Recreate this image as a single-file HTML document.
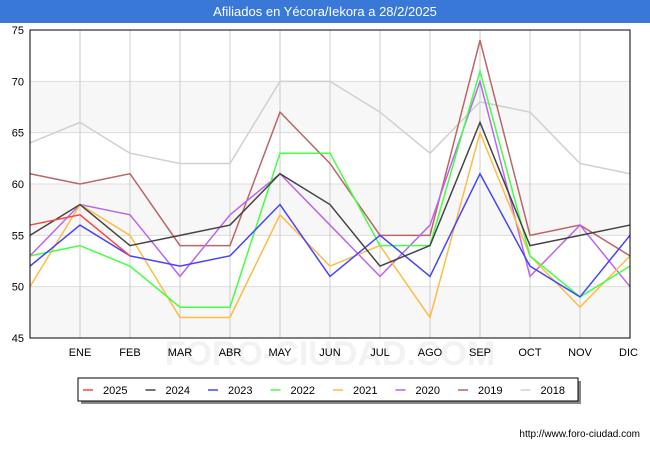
<!DOCTYPE html>
<html><head><meta charset="utf-8"><style>
body{margin:0;background:#fff;font-family:"Liberation Sans",sans-serif}
</style></head><body>
<svg width="650" height="450" viewBox="0 0 650 450" id="svg" style="display:block">
<rect x="0" y="0" width="650" height="23" fill="#3a78d8"/>
<text x="325" y="16" text-anchor="middle" font-size="13" fill="#fff">Afiliados en Yécora/Iekora a 28/2/2025</text>
<g id="plot"></g>
<text x="640" y="437" text-anchor="end" font-size="10" fill="#000">http://www.foro-ciudad.com</text>
</svg>
<script>
const months=["","ENE","FEB","MAR","ABR","MAY","JUN","JUL","AGO","SEP","OCT","NOV","DIC"];
const yTicks=[45,50,55,60,65,70,75];
const seriesNames=["2025","2024","2023","2022","2021","2020","2019","2018"];
const colors=["#ff4444","#444444","#4444ff","#44ff44","#ffbb44","#bb66ee","#bb6666","#d0d0d0"];
const s2025=[56,57,53];
const s2024=[55,58,54,55,56,61,58,52,54,66,54,55,56];
const s2023=[52,56,53,52,53,58,51,55,51,61,52,49,55];
const s2022=[53,54,52,48,48,63,63,54,54,71,53,49,52];
const s2021=[50,58,55,47,47,57,52,54,47,65,53,48,53];
const s2020=[53,58,57,51,57,61,56,51,56,70,51,56,50];
const s2019=[61,60,61,54,54,67,62,55,55,74,55,56,53];
const s2018=[64,66,63,62,62,70,70,67,63,68,67,62,61];
const allSeries=[s2025,s2024,s2023,s2022,s2021,s2020,s2019,s2018];
const NS="http://www.w3.org/2000/svg";
const X0=30,X1=630,Y0=338,Y1=30,YMIN=45,YMAX=75;
const xs=i=>X0+(X1-X0)*i/12;
const ys=v=>Y0-(v-YMIN)/(YMAX-YMIN)*(Y0-Y1);
const g=document.getElementById('plot');
function mk(t,a){const e=document.createElementNS(NS,t);for(const k in a)e.setAttribute(k,a[k]);g.appendChild(e);return e;}
const wm=mk('text',{x:330,y:365,'text-anchor':'middle','font-size':'34',fill:'#f2f2f2','font-weight':'bold'});
wm.textContent='FORO-CIUDAD.COM';


for(let i=0;i<yTicks.length-1;i++){
 if(i%2===0){const r=mk('rect',{x:X0,y:ys(yTicks[i+1]),width:X1-X0,height:ys(yTicks[i])-ys(yTicks[i+1]),fill:'#f7f7f7'});
 
 }
}
yTicks.forEach(v=>{
 const l=mk('line',{x1:X0,x2:X1,y1:ys(v),y2:ys(v),stroke:'#dddddd'});
 
 
 const t=mk('text',{x:X0-6,y:ys(v)+4,'text-anchor':'end','font-size':'11',fill:'#000'});
 t.textContent=v;
 
 
});
months.forEach((m,i)=>{
 if(i>0){const l=mk('line',{x1:xs(i),x2:xs(i),y1:Y1,y2:Y0,stroke:'#cccccc'});
 
 }
 const t=mk('text',{x:xs(i),y:356,'text-anchor':i===12?'end':'middle','font-size':'11',fill:'#000'});
 if(i===12)t.setAttribute('x',X1+8);
 t.textContent=m;
 
 
});
for(let k=allSeries.length-1;k>=0;k--){
 const d=allSeries[k].map((v,i)=>(i?'L':'M')+xs(i)+','+ys(v)).join('');
 const p=mk('path',{d:d,fill:'none',stroke:colors[k],'stroke-width':'1.5'});
 
 
}
const ax=mk('rect',{x:X0,y:Y1,width:X1-X0,height:Y0-Y1,fill:'none',stroke:'#000','stroke-width':'1'});


const sh=mk('rect',{x:81,y:381,width:500,height:23,fill:'#888'});


const lb=mk('rect',{x:78,y:378,width:500,height:23,fill:'#fff',stroke:'#000'});


seriesNames.forEach((n,i)=>{
 const x=83+i*62.5;
 const l=mk('line',{x1:x,x2:x+10,y1:390,y2:390,stroke:colors[i],'stroke-width':'1.5'});
 
 
 const t=mk('text',{x:x+20,y:394,'font-size':'11',fill:'#000'});
 t.textContent=n;
 
 
});
</script>
</body></html>
